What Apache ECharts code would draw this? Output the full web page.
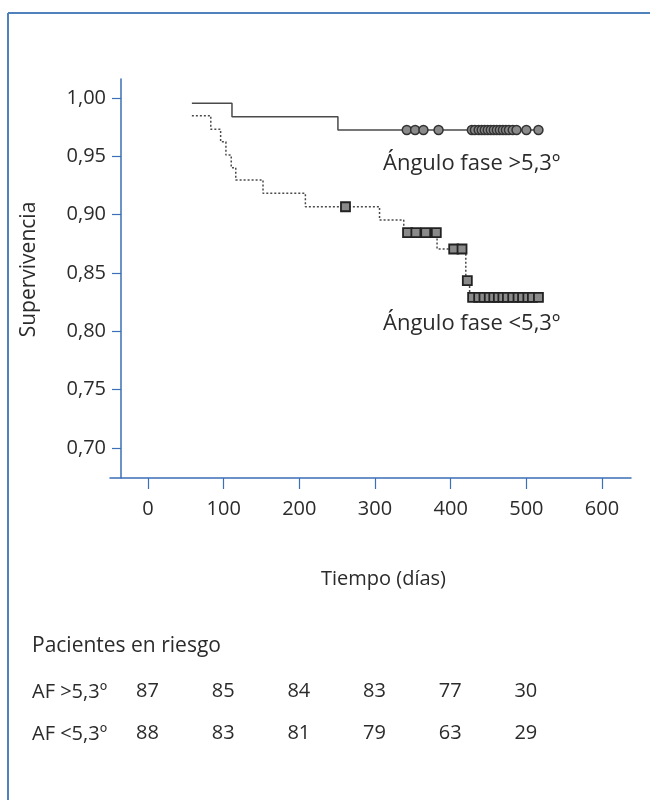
<!DOCTYPE html>
<html>
<head>
<meta charset="utf-8">
<script src="https://cdn.jsdelivr.net/npm/echarts@6/dist/echarts.min.js"></script>
<style>
  html, body { margin: 0; padding: 0; background: #fff; }
  #chart { width: 650px; height: 800px; }
</style>
</head>
<body>
<div id="chart"></div>
<script>
// Kaplan-Meier steps: time (days) and survival after that time
const upperTimes = [58, 111, 251, 520]
const upperSurv = [0.9955, 0.984, 0.9726, 0.9726]
const lowerTimes = [58, 83, 96, 103, 110, 116, 152, 208, 306, 338, 382, 420, 425, 520]
const lowerSurv = [0.9848, 0.9732, 0.9625, 0.9511, 0.9403, 0.9297, 0.9183, 0.9068, 0.8954, 0.8846, 0.8706, 0.8434, 0.8292, 0.8292]

// censored observations (days)
const upperCensored = [342, 353, 364, 384, 428, 432, 437, 441, 445, 449, 453, 457, 461, 465, 469, 473, 477, 482, 487, 500, 516]
const lowerCensored = [261, 343, 354, 367, 381, 404, 415, 422, 429, 437, 444, 451, 457, 463, 469, 475, 482, 489, 495, 502, 508, 516]

// pacientes en riesgo
const riskTimes = [0, 100, 200, 300, 400, 500]
const riskGroups = ['AF >5,3º', 'AF <5,3º']
const riskHigh = [87, 85, 84, 83, 77, 30]
const riskLow = [88, 83, 81, 79, 63, 29]

const yTicks = [0.70, 0.75, 0.80, 0.85, 0.90, 0.95, 1.00]
const xTicks = [0, 100, 200, 300, 400, 500, 600]

const FONT = 'Open Sans'
const TXT = '#2b2b2b'
const AXIS = '#3b6fb6'

function stepValue(times, surv, t) {
  let v = surv[0]
  for (let i = 0; i < times.length; i++) {
    if (times[i] <= t) v = surv[i]
  }
  return v
}

const upperLine = upperTimes.map((t, i) => [t, upperSurv[i]])
const lowerLine = lowerTimes.map((t, i) => [t, lowerSurv[i]])
const upperMarks = upperCensored.map(t => [t, stepValue(upperTimes, upperSurv, t)])
const lowerMarks = lowerCensored.map(t => [t, stepValue(lowerTimes, lowerSurv, t)])
const riskData = []
riskTimes.forEach((t, i) => {
  riskData.push([t, riskGroups[0], riskHigh[i]])
  riskData.push([t, riskGroups[1], riskLow[i]])
})

const chart = echarts.init(document.getElementById('chart'))
chart.setOption({
  animation: false,
  backgroundColor: '#fff',
  textStyle: { fontFamily: FONT },
  grid: [
    { left: 110, top: 79, width: 521, height: 399 },
    { left: 110, top: 671, width: 521, height: 84 }
  ],
  xAxis: [{
    gridIndex: 0,
    type: 'value',
    min: -50.2,
    max: 638.3,
    splitLine: { show: false },
    axisLine: { onZero: false, lineStyle: { color: AXIS, width: 1.5 } },
    axisTick: { customValues: xTicks, length: 11, lineStyle: { color: AXIS, width: 1.2 } },
    axisLabel: { customValues: xTicks, margin: 21, fontSize: 20, color: TXT, fontFamily: FONT },
    name: 'Tiempo (días)',
    nameLocation: 'middle',
    nameGap: 91,
    nameTextStyle: { fontSize: 20, color: TXT, fontFamily: FONT, padding: [0, 0, 0, 26] }
  }, {
    gridIndex: 1,
    type: 'value',
    min: -50.2,
    max: 638.3,
    show: false
  }],
  yAxis: [{
    gridIndex: 0,
    type: 'value',
    min: 0.6743,
    max: 1.0163,
    offset: -11,
    splitLine: { show: false },
    axisLine: { show: true, onZero: false, lineStyle: { color: AXIS, width: 1.5 } },
    axisTick: { show: true, customValues: yTicks, length: 9, lineStyle: { color: AXIS, width: 1.2 } },
    axisLabel: {
      customValues: yTicks, margin: 15, fontSize: 20, color: TXT, fontFamily: FONT,
      formatter: v => v.toFixed(2).replace('.', ',')
    },
    name: 'Supervivencia',
    nameLocation: 'middle',
    nameMoveOverlap: false,
    nameGap: 81,
    nameTextStyle: { fontSize: 21, color: TXT, fontFamily: FONT, padding: [0, 0, 0, 18] }
  }, {
    gridIndex: 1,
    type: 'category',
    data: riskGroups,
    inverse: true,
    axisLine: { show: false },
    axisTick: { show: false },
    splitLine: { show: false },
    axisLabel: { align: 'left', margin: 78, fontSize: 20, color: TXT, fontFamily: FONT }
  }],
  series: [{
    type: 'line',
    xAxisIndex: 0,
    yAxisIndex: 0,
    step: 'end',
    showSymbol: false,
    data: upperLine,
    lineStyle: { color: '#4a4a4a', width: 1.5 },
    z: 2
  }, {
    type: 'line',
    xAxisIndex: 0,
    yAxisIndex: 0,
    step: 'end',
    showSymbol: false,
    data: lowerLine,
    lineStyle: { color: '#4a4a4a', width: 1.5, type: [2, 2] },
    z: 2
  }, {
    type: 'scatter',
    xAxisIndex: 0,
    yAxisIndex: 0,
    symbol: 'circle',
    symbolSize: 9,
    data: upperMarks,
    itemStyle: { color: '#8a8a8a', borderColor: '#333', borderWidth: 1.5, opacity: 1 },
    z: 3
  }, {
    type: 'scatter',
    xAxisIndex: 0,
    yAxisIndex: 0,
    symbol: 'rect',
    symbolSize: 9,
    data: lowerMarks,
    itemStyle: { color: '#8a8a8a', borderColor: '#222', borderWidth: 1.8, opacity: 1 },
    z: 3
  }, {
    type: 'scatter',
    xAxisIndex: 1,
    yAxisIndex: 1,
    symbolSize: 1,
    data: riskData,
    itemStyle: { color: 'rgba(0,0,0,0)', opacity: 1 },
    label: {
      show: true,
      position: [0, 0],
      align: 'center',
      verticalAlign: 'middle',
      formatter: p => String(p.value[2]),
      fontSize: 20,
      color: TXT,
      fontFamily: FONT
    }
  }],
  graphic: [
    { type: 'line', shape: { x1: 8, y1: 13, x2: 650, y2: 13 }, style: { stroke: '#4f81bd', lineWidth: 2 } },
    { type: 'line', shape: { x1: 8, y1: 13, x2: 8, y2: 800 }, style: { stroke: '#4f81bd', lineWidth: 2 } },
    { type: 'text', left: 383, top: 153, style: { text: 'Ángulo fase >5,3º', fontSize: 22, fill: TXT, fontFamily: FONT } },
    { type: 'text', left: 383, top: 313, style: { text: 'Ángulo fase <5,3º', fontSize: 22, fill: TXT, fontFamily: FONT } },
    { type: 'text', left: 32, top: 636, style: { text: 'Pacientes en riesgo', fontSize: 21, fill: TXT, fontFamily: FONT } }
  ]
})
</script>
</body>
</html>
